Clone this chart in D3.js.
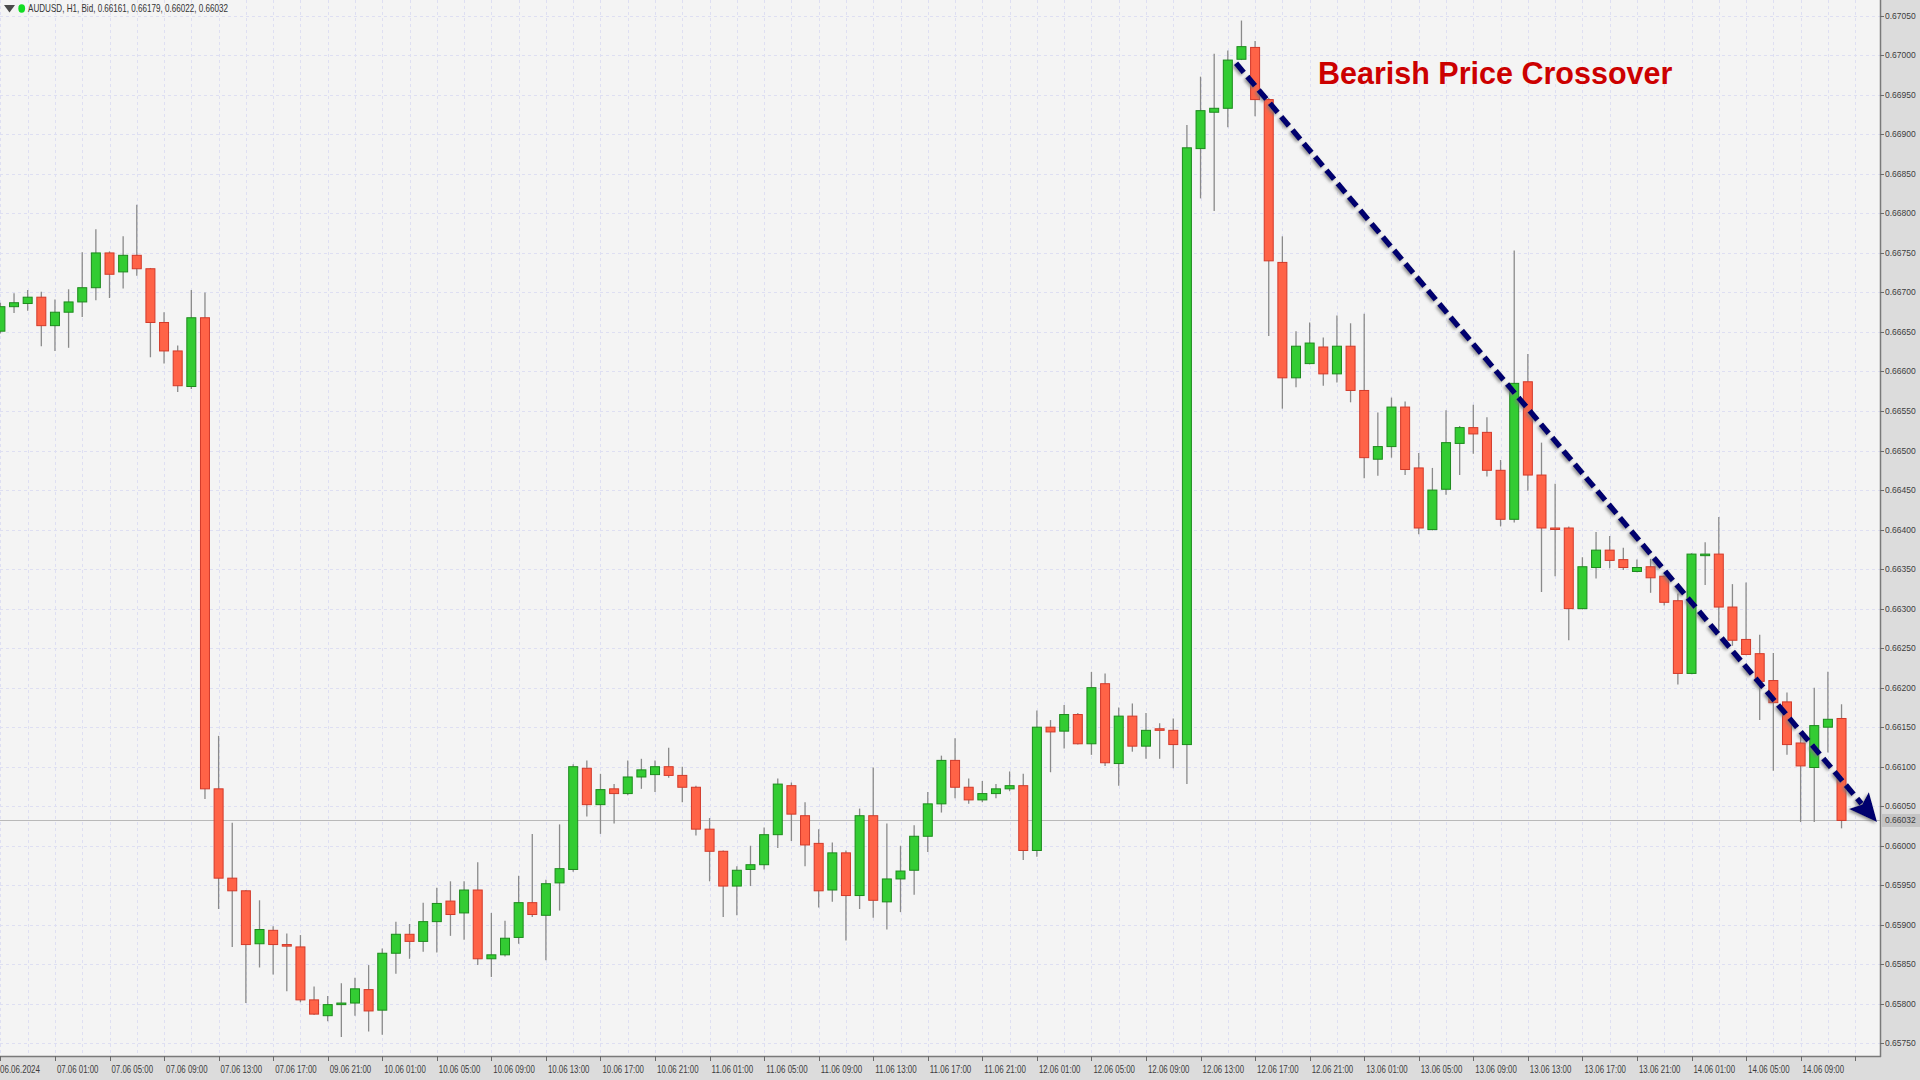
<!DOCTYPE html>
<html><head><meta charset="utf-8">
<script src="https://cdn.jsdelivr.net/npm/d3@7"></script>
<style>html,body{margin:0;padding:0;background:#dcdcdc;overflow:hidden}</style>
</head><body><svg id="c" width="1920" height="1080"></svg>
<script>
// ---------- data ----------
const symbolInfo = "AUDUSD, H1, Bid, 0.66161, 0.66179, 0.66022, 0.66032";
const chartTitle = "Bearish Price Crossover";
const currentPrice = 0.66032;

const opens = [0.66651,0.66682,0.66686,0.66694,0.66658,0.66675,0.66688,0.66706,0.66750,0.66726,
0.66747,0.66730,0.66662,0.66626,0.66581,0.66668,0.66072,0.65959,0.65943,0.65876,
0.65893,0.65875,0.65872,0.65805,0.65785,0.65799,0.65801,0.65818,0.65792,0.65864,
0.65888,0.65879,0.65904,0.65930,0.65915,0.65944,0.65857,0.65862,0.65884,0.65928,
0.65912,0.65953,0.65970,0.66098,0.66052,0.66072,0.66066,0.66087,0.66090,0.66100,
0.66089,0.66074,0.66021,0.65993,0.65949,0.65970,0.65976,0.66014,0.66076,0.66038,
0.66003,0.65944,0.65991,0.65937,0.66038,0.65929,0.65958,0.65969,0.66012,0.66053,
0.66108,0.66074,0.66058,0.66066,0.66072,0.66076,0.65994,0.66150,0.66145,0.66166,
0.66129,0.66205,0.66104,0.66164,0.66126,0.66148,0.66146,0.66128,0.66882,0.66928,
0.66933,0.66995,0.67010,0.66944,0.66738,0.66592,0.66610,0.66631,0.66597,0.66632,
0.66576,0.66489,0.66505,0.66555,0.66478,0.66400,0.66451,0.66509,0.66529,0.66523,
0.66475,0.66413,0.66587,0.66469,0.66402,0.66402,0.66300,0.66352,0.66374,0.66362,
0.66347,0.66353,0.66341,0.66310,0.66218,0.66367,0.66369,0.66302,0.66261,0.66243,
0.66209,0.66182,0.66130,0.66099,0.66150,0.66161];

const highs = [0.66687,0.66699,0.66703,0.66701,0.66691,0.66704,0.66751,0.66780,0.66752,0.66771,
0.66811,0.66731,0.66675,0.66633,0.66703,0.66700,0.66139,0.66029,0.65944,0.65931,
0.65898,0.65889,0.65887,0.65822,0.65810,0.65826,0.65833,0.65849,0.65870,0.65904,
0.65901,0.65928,0.65947,0.65955,0.65955,0.65979,0.65915,0.65905,0.65962,0.66015,
0.65957,0.66027,0.66103,0.66108,0.66091,0.66078,0.66108,0.66110,0.66108,0.66124,
0.66100,0.66076,0.66035,0.65994,0.65974,0.66000,0.66023,0.66085,0.66080,0.66055,
0.66021,0.66004,0.65994,0.66047,0.66099,0.66028,0.66000,0.66026,0.66068,0.66114,
0.66136,0.66085,0.66082,0.66078,0.66094,0.66091,0.66171,0.66159,0.66178,0.66168,
0.66220,0.66218,0.66175,0.66180,0.66168,0.66155,0.66161,0.66912,0.66973,0.67002,
0.67006,0.67044,0.67018,0.66946,0.66771,0.66651,0.66662,0.66643,0.66671,0.66661,
0.66673,0.66548,0.66567,0.66562,0.66497,0.66478,0.66551,0.66531,0.66558,0.66542,
0.66488,0.66753,0.66622,0.66510,0.66458,0.66404,0.66365,0.66397,0.66392,0.66377,
0.66362,0.66363,0.66342,0.66319,0.66370,0.66384,0.66416,0.66331,0.66333,0.66267,
0.66244,0.66194,0.66140,0.66200,0.66220,0.66179];

const lows = [0.66648,0.66674,0.66677,0.66632,0.66626,0.66630,0.66669,0.66690,0.66693,0.66705,
0.66721,0.66618,0.66610,0.66574,0.66578,0.66059,0.65920,0.65872,0.65801,0.65846,
0.65837,0.65816,0.65802,0.65786,0.65778,0.65758,0.65785,0.65765,0.65761,0.65838,
0.65857,0.65866,0.65865,0.65886,0.65881,0.65849,0.65834,0.65860,0.65876,0.65910,
0.65855,0.65918,0.65967,0.66037,0.66015,0.66028,0.66064,0.66072,0.66068,0.66086,
0.66055,0.66013,0.65955,0.65910,0.65912,0.65949,0.65970,0.65997,0.66006,0.65974,
0.65922,0.65929,0.65880,0.65920,0.65909,0.65894,0.65916,0.65938,0.65992,0.66042,
0.66060,0.66053,0.66055,0.66060,0.66069,0.65982,0.65986,0.66093,0.66123,0.66128,
0.66115,0.66101,0.66076,0.66119,0.66110,0.66110,0.66098,0.66078,0.66819,0.66803,
0.66909,0.66994,0.66923,0.66645,0.66553,0.66580,0.66609,0.66582,0.66586,0.66561,
0.66465,0.66468,0.66491,0.66469,0.66394,0.66399,0.66444,0.66469,0.66496,0.66467,
0.66404,0.66409,0.66449,0.66321,0.66341,0.66260,0.66299,0.66338,0.66351,0.66349,
0.66346,0.66320,0.66304,0.66204,0.66217,0.66330,0.66273,0.66253,0.66241,0.66159,
0.66095,0.66115,0.66030,0.66030,0.66118,0.66022];

const closes = [0.66682,0.66687,0.66694,0.66658,0.66675,0.66688,0.66706,0.66750,0.66723,0.66747,
0.66730,0.66662,0.66626,0.66582,0.66668,0.66072,0.65959,0.65943,0.65875,0.65894,
0.65875,0.65873,0.65805,0.65787,0.65799,0.65801,0.65819,0.65791,0.65864,0.65888,
0.65879,0.65904,0.65927,0.65913,0.65944,0.65857,0.65862,0.65883,0.65928,0.65913,
0.65952,0.65971,0.66100,0.66052,0.66071,0.66066,0.66087,0.66096,0.66100,0.66089,
0.66074,0.66021,0.65993,0.65949,0.65969,0.65976,0.66014,0.66078,0.66040,0.66001,
0.65943,0.65991,0.65937,0.66038,0.65931,0.65958,0.65968,0.66012,0.66053,0.66108,
0.66074,0.66058,0.66066,0.66072,0.66076,0.65994,0.66150,0.66144,0.66166,0.66129,
0.66200,0.66105,0.66164,0.66126,0.66146,0.66146,0.66128,0.66883,0.66930,0.66933,
0.66994,0.67011,0.66944,0.66740,0.66592,0.66632,0.66636,0.66597,0.66632,0.66576,
0.66491,0.66505,0.66555,0.66476,0.66402,0.66450,0.66510,0.66529,0.66521,0.66475,
0.66413,0.66585,0.66469,0.66402,0.66401,0.66300,0.66353,0.66374,0.66361,0.66352,
0.66352,0.66339,0.66308,0.66218,0.66369,0.66369,0.66302,0.66260,0.66242,0.66208,
0.66181,0.66128,0.66101,0.66152,0.66160,0.66032];

// time axis labels, one every 4 hourly bars starting at bar 0
const timeLabels = ["06.06.2024","07.06 01:00","07.06 05:00","07.06 09:00","07.06 13:00","07.06 17:00",
"09.06 21:00","10.06 01:00","10.06 05:00","10.06 09:00","10.06 13:00","10.06 17:00","10.06 21:00",
"11.06 01:00","11.06 05:00","11.06 09:00","11.06 13:00","11.06 17:00","11.06 21:00",
"12.06 01:00","12.06 05:00","12.06 09:00","12.06 13:00","12.06 17:00","12.06 21:00",
"13.06 01:00","13.06 05:00","13.06 09:00","13.06 13:00","13.06 17:00","13.06 21:00",
"14.06 01:00","14.06 05:00","14.06 09:00"];
const labelEvery = 4;

const priceTicks = d3.range(0, 27).map(k => +(0.65750 + k * 0.0005).toFixed(5));

// trend arrow (bar index, price)
const arrowFrom = {bar: 90.6, price: 0.66990};
const arrowTo   = {bar: 137.6, price: 0.66030};

// ---------- layout ----------
const W = 1920, H = 1080, plotR = 1880, plotB = 1056, barStep = 13.638;
const svg = d3.select('#c');
const defs = svg.append('defs');
const f = defs.append('filter').attr('id','sh').attr('x','-10%').attr('y','-10%').attr('width','120%').attr('height','120%');
f.append('feDropShadow').attr('dx',-1.5).attr('dy',1.5).attr('stdDeviation',1.5)
 .attr('flood-color','#777').attr('flood-opacity',0.8);

svg.append('rect').attr('width',W).attr('height',H).attr('fill','#dcdcdc');
svg.append('rect').attr('width',plotR).attr('height',plotB).attr('fill','#f4f4f4');

const n = opens.length;
const x = d3.scaleLinear().domain([0, n-1]).range([0.4, 0.4 + barStep*(n-1)]);
const y = d3.scaleLinear().domain([0.65734, 0.67070]).range([plotB, 0]);

const plot = svg.append('g');
// grid
plot.selectAll('.hg').data(priceTicks).join('line')
  .attr('x1',0).attr('x2',plotR).attr('y1',d=>Math.round(y(d))+0.5).attr('y2',d=>Math.round(y(d))+0.5)
  .attr('stroke','#dedff2').attr('stroke-dasharray','3,3');
const vIdx = d3.range(0, 139, 2).filter(i => x(i) < plotR);
plot.selectAll('.vg').data(vIdx).join('line')
  .attr('y1',0).attr('y2',plotB).attr('x1',d=>Math.round(x(d))+0.5).attr('x2',d=>Math.round(x(d))+0.5)
  .attr('stroke','#dedff2').attr('stroke-dasharray','3,3');

// current price line
plot.append('line').attr('x1',0).attr('x2',plotR)
  .attr('y1',Math.round(y(currentPrice))+0.5).attr('y2',Math.round(y(currentPrice))+0.5)
  .attr('stroke','#b9b9b9').attr('stroke-width',1.2);

// candles
const bars = d3.range(n).map(i => ({i, o:opens[i], h:highs[i], l:lows[i], c:closes[i]}));
const cg = plot.selectAll('.cd').data(bars).join('g');
cg.append('line')
  .attr('x1',d=>x(d.i)).attr('x2',d=>x(d.i))
  .attr('y1',d=>y(d.h)).attr('y2',d=>y(d.l))
  .attr('stroke','#8a8a8a').attr('stroke-width',1.3);
cg.append('rect')
  .attr('x',d=>x(d.i)-4.5).attr('width',9)
  .attr('y',d=>y(Math.max(d.o,d.c)))
  .attr('height',d=>Math.max(1.5, Math.abs(y(d.o)-y(d.c))))
  .attr('fill',d=>d.c>d.o?'#33cc33':'#ff6347')
  .attr('stroke',d=>d.c>d.o?'#1c8a1c':'#d23a2a').attr('stroke-width',1);

// axes frame
svg.append('line').attr('x1',plotR+0.5).attr('x2',plotR+0.5).attr('y1',0).attr('y2',plotB+1)
  .attr('stroke','#7a7a7a').attr('stroke-width',1.5);
svg.append('line').attr('x1',0).attr('x2',plotR+1).attr('y1',plotB+0.5).attr('y2',plotB+0.5)
  .attr('stroke','#7a7a7a').attr('stroke-width',1.5);

// right axis
const ra = svg.append('g');
ra.selectAll('line').data(priceTicks).join('line')
  .attr('x1',plotR).attr('x2',plotR+4).attr('y1',d=>Math.round(y(d))+0.5).attr('y2',d=>Math.round(y(d))+0.5)
  .attr('stroke','#6a6a6a');
ra.selectAll('text').data(priceTicks).join('text')
  .attr('x',plotR+5).attr('y',d=>y(d)+3)
  .attr('font-family','Liberation Sans, Arial, sans-serif').attr('font-size',8.5)
  .attr('fill','#3c3c3c').text(d=>d3.format('.5f')(d));
// current price tag
ra.append('rect').attr('x',plotR+1).attr('y',y(currentPrice)-6.5).attr('width',W-plotR-1).attr('height',13)
  .attr('fill','#c4c4c4');
ra.append('text').attr('x',plotR+5).attr('y',y(currentPrice)+3)
  .attr('font-family','Liberation Sans, Arial, sans-serif').attr('font-size',8.5)
  .attr('fill','#3c3c3c').text(d3.format('.5f')(currentPrice));

// bottom axis
const tickIdx = d3.range(0, 137, labelEvery);
const ba = svg.append('g');
ba.selectAll('line').data(tickIdx).join('line')
  .attr('x1',d=>Math.round(x(d))+0.5).attr('x2',d=>Math.round(x(d))+0.5).attr('y1',plotB).attr('y2',plotB+5)
  .attr('stroke','#6a6a6a');
ba.selectAll('text').data(timeLabels).join('text')
  .attr('x',(d,k)=> k===0 ? 0 : x(k*labelEvery)+2).attr('y',plotB+17)
  .attr('font-family','Liberation Sans, Arial, sans-serif').attr('font-size',10)
  .attr('textLength',(d,k)=> k===0 ? 40 : 41.5).attr('lengthAdjust','spacingAndGlyphs')
  .attr('fill','#3c3c3c').text(d=>d);

// header
svg.append('path').attr('d','M4,5 L15,5 L9.5,12.5 Z').attr('fill','#4a4a4a');
svg.append('ellipse').attr('cx',21.7).attr('cy',8.5).attr('rx',3.4).attr('ry',4.2).attr('fill','#11dd22');
svg.append('text').attr('x',28).attr('y',11.5)
  .attr('font-family','Liberation Sans, Arial, sans-serif').attr('font-size',10.5)
  .attr('textLength',200).attr('lengthAdjust','spacingAndGlyphs')
  .attr('fill','#333').text(symbolInfo);

// title
svg.append('text').attr('x',1318).attr('y',84)
  .attr('font-family','Liberation Sans, Arial, sans-serif').attr('font-weight','bold')
  .attr('font-size',30.5).attr('fill','#cc0000').text(chartTitle);

// arrow
const ax1 = x(arrowFrom.bar), ay1 = y(arrowFrom.price), ax2 = x(arrowTo.bar), ay2 = y(arrowTo.price);
const len = Math.hypot(ax2-ax1, ay2-ay1), ux = (ax2-ax1)/len, uy = (ay2-ay1)/len;
const headL = 28, headW = 13;
const bx = ax2 - ux*headL, by = ay2 - uy*headL;
const ag = svg.append('g').attr('filter','url(#sh)');
ag.append('line').attr('x1',ax1).attr('y1',ay1).attr('x2',bx+ux*4).attr('y2',by+uy*4)
  .attr('stroke','#00006e').attr('stroke-width',5.5).attr('stroke-dasharray','12,5.5');
ag.append('path')
  .attr('d',`M${ax2},${ay2} L${bx - uy*headW},${by + ux*headW} L${bx + ux*5},${by + uy*5} L${bx + uy*headW},${by - ux*headW} Z`)
  .attr('fill','#00006e');
</script></body></html>
